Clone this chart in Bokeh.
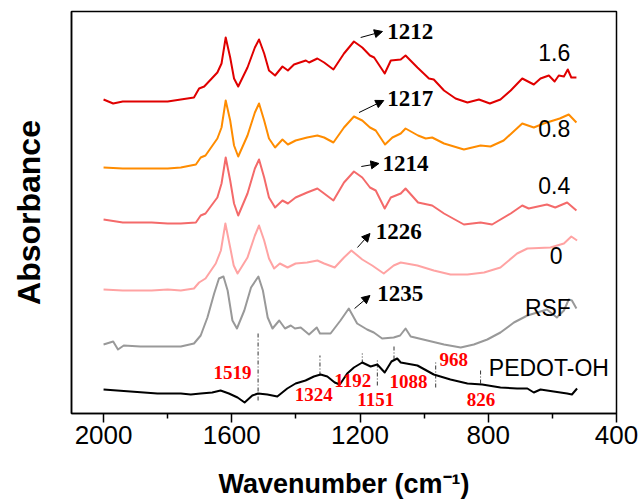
from bokeh.plotting import figure
from bokeh.models import Range1d, FixedTicker, Arrow, NormalHead, ColumnDataSource
from bokeh.core.properties import value
from bokeh.embed import file_html
from bokeh.resources import INLINE

# ---------------- data (wavenumber in cm-1, stacked absorbance in arbitrary units) ----------------
wn_16 = [2000, 1970, 1940, 1880, 1800, 1759, 1718, 1702, 1686, 1645, 1632, 1619, 1605, 1593, 1580,
         1551, 1528, 1515, 1499, 1484, 1465, 1442, 1425, 1406, 1369, 1359, 1333, 1312, 1283, 1250,
         1219, 1193, 1169, 1156, 1123, 1104, 1073, 1058, 1021, 985, 970, 938, 902, 865, 829, 795,
         762, 730, 694, 658, 637, 611, 593, 580, 564, 552, 541, 525]
ab_16 = [314, 310, 312, 312, 312, 314, 316, 325, 327, 341, 350, 376, 356, 335, 327,
         346, 366, 374, 360, 343, 338, 347, 343, 349, 353, 351, 355, 351, 344, 360,
         372, 366, 358, 356, 340, 353, 354, 358, 346, 335, 334, 323, 315, 311, 314, 310,
         314, 323, 335, 329, 335, 338, 332, 338, 337, 344, 336, 336]

wn_08 = [2000, 1940, 1850, 1800, 1759, 1712, 1697, 1682, 1645, 1632, 1619, 1605, 1593, 1580, 1551,
         1528, 1515, 1499, 1484, 1465, 1442, 1425, 1401, 1365, 1333, 1312, 1283, 1250, 1219, 1193,
         1169, 1151, 1122, 1099, 1073, 1058, 1019, 995, 975, 938, 876, 824, 793, 752, 694, 658,
         627, 577, 549, 525]
ab_08 = [246, 245, 245, 245, 246, 249, 256, 258, 275, 286, 313, 293, 268, 257, 278,
         301, 310, 293, 275, 266, 274, 269, 273, 276, 278, 276, 271, 286, 297, 293,
         286, 283, 269, 276, 280, 285, 278, 275, 276, 270, 264, 268, 267, 273, 290, 286,
         290, 295, 299, 291]

wn_04 = [2000, 1940, 1850, 1800, 1759, 1712, 1697, 1682, 1645, 1632, 1619, 1605, 1593, 1580, 1551,
         1528, 1515, 1499, 1484, 1465, 1442, 1425, 1401, 1365, 1333, 1312, 1283, 1250, 1219, 1193,
         1169, 1151, 1123, 1104, 1073, 1058, 1019, 975, 938, 876, 824, 788, 730, 694, 674, 617,
         591, 554, 525]
ab_04 = [194, 191, 191, 190, 190, 191, 198, 200, 216, 230, 256, 233, 210, 198, 220,
         245, 254, 236, 216, 206, 213, 210, 216, 221, 225, 220, 213, 231, 242, 236,
         226, 223, 205, 216, 220, 225, 211, 208, 200, 189, 191, 189, 200, 208, 205, 209,
         206, 211, 203]

wn_00 = [2000, 1940, 1850, 1800, 1759, 1718, 1702, 1682, 1650, 1634, 1620, 1605, 1594, 1582, 1551,
         1528, 1515, 1499, 1484, 1468, 1450, 1426, 1401, 1365, 1333, 1312, 1279, 1250, 1227, 1193,
         1162, 1126, 1095, 1073, 1021, 970, 918, 865, 813, 762, 710, 678, 606, 564, 541, 523]
ab_00 = [124, 123, 123, 124, 123, 125, 131, 135, 150, 163, 190, 166, 148, 140, 156,
         178, 188, 173, 155, 145, 150, 146, 150, 151, 153, 150, 146, 156, 163, 154,
         148, 140, 148, 151, 148, 143, 139, 139, 141, 146, 160, 165, 166, 170, 177, 173]

wn_rsf = [2000, 1970, 1955, 1937, 1885, 1800, 1759, 1718, 1697, 1676, 1655, 1640, 1626, 1613, 1598,
          1584, 1561, 1540, 1517, 1503, 1488, 1473, 1452, 1434, 1416, 1403, 1385, 1359, 1335, 1325,
          1292, 1261, 1235, 1209, 1178, 1157, 1131, 1095, 1075, 1058, 1042, 990, 938, 886, 845,
          803, 762, 720, 678, 647, 617, 586, 564, 549, 539, 525]
ab_rsf = [69, 72, 64, 68, 67, 67, 67, 70, 78, 96, 120, 135, 137, 123, 93,
          85, 103, 126, 137, 123, 96, 85, 93, 85, 88, 85, 86, 79, 86, 80,
          80, 93, 105, 90, 84, 81, 75, 76, 78, 85, 77, 73, 69, 66, 69,
          74, 81, 91, 98, 101, 104, 96, 103, 114, 113, 105]

wn_ped = [2000, 1832, 1759, 1728, 1697, 1661, 1635, 1609, 1582, 1560, 1536, 1518, 1489, 1458, 1427,
          1401, 1370, 1344, 1323, 1302, 1279, 1263, 1240, 1219, 1193, 1167, 1146, 1123, 1102, 1084,
          1073, 1021, 970, 918, 865, 819, 762, 710, 678, 658, 637, 596, 554, 539, 523]
ab_ped = [24, 20, 20, 19, 20, 21, 23, 20, 16, 11, 18, 20, 19, 17, 25,
          30, 33, 37, 39, 37, 31, 29, 40, 46, 51, 47, 49, 41, 52, 55,
          51, 48, 39, 34, 30, 29, 26, 25, 25, 21, 24, 22, 20, 19, 25]

series_names = ["1.6", "0.8", "0.4", "0", "RSF", "PEDOT-OH"]
series_label_x = [594, 594, 594, 588, 614, 611]
series_label_y = [361, 285, 228, 158, 106, 46]

# peak assignments of the samples (black, with arrows)
peak_labels = ["1212", "1217", "1214", "1226", "1235"]
peak_label_x = [1115, 1115, 1130, 1151, 1146]
peak_label_y = [382, 315, 250, 182, 120]
arrow_x0 = [1198, 1203, 1196, 1208, 1217]
arrow_y0 = [376, 301, 247, 166, 105]
arrow_x1 = [1130, 1126, 1141, 1169, 1169]
arrow_y1 = [382, 313, 250, 180, 118]

# PEDOT-OH band positions (red) and their guide lines
band_labels = ["1519", "1324", "1192", "1151", "1088", "968", "826"]
band_label_x = [1598, 1344, 1223, 1151, 1049, 908, 823]
band_label_y = [41, 19, 33, 14, 32, 54, 14]
band_line_x = [1518, 1325, 1193, 1146, 1094, 964, 824]
band_line_top = [81, 58, 60, 55, 67, 53, 45]
band_line_bottom = [13, 38, 50, 28, 54, 26, 30]

# ---------------- figure ----------------
p = figure(width=641, height=503, x_range=Range1d(2100, 400), y_range=Range1d(0, 402),
           output_backend="svg", toolbar_location=None,
           min_border_left=71, min_border_right=25, min_border_top=11, min_border_bottom=90)
p.xgrid.visible = False
p.ygrid.visible = False
p.outline_line_color = "black"
p.outline_line_width = 1.5
p.background_fill_color = "white"
p.border_fill_color = "white"

ax = p.xaxis[0]
ax.ticker = FixedTicker(ticks=[400, 800, 1200, 1600, 2000], minor_ticks=[600, 1000, 1400, 1800])
ax.major_tick_in = 0
ax.major_tick_out = 9
ax.minor_tick_in = 0
ax.minor_tick_out = 5
ax.major_tick_line_width = 1.5
ax.minor_tick_line_width = 1.5
ax.axis_line_width = 1.5
ax.axis_line_color = "black"
ax.major_tick_line_color = "black"
ax.minor_tick_line_color = "black"
ax.major_label_text_font = "Liberation Sans"
ax.major_label_text_font_size = "26px"
ax.major_label_text_color = "black"
ax.major_label_standoff = 3
ax.axis_label = "Wavenumber (cm\u207b\u00b9)"
ax.axis_label_text_font = "Liberation Sans"
ax.axis_label_text_font_size = "27px"
ax.axis_label_text_font_style = "bold"
ax.axis_label_text_color = "black"
ax.axis_label_standoff = 22

ay = p.yaxis[0]
ay.ticker = FixedTicker(ticks=[])
ay.major_tick_out = 0
ay.major_tick_in = 0
ay.minor_tick_out = 0
ay.minor_tick_in = 0
ay.major_label_standoff = 0
ay.axis_line_width = 1.5
ay.axis_line_color = "black"
ay.axis_label = "Absorbance"
ay.axis_label_text_font = "Liberation Sans"
ay.axis_label_text_font_size = "32px"
ay.axis_label_text_font_style = "bold"
ay.axis_label_text_color = "black"
ay.axis_label_standoff = 25

colors = ["#e00000", "#ff8c00", "#f46a6a", "#ffa3a3", "#999999", "#000000"]
data = [(wn_16, ab_16), (wn_08, ab_08), (wn_04, ab_04), (wn_00, ab_00), (wn_rsf, ab_rsf), (wn_ped, ab_ped)]
for (xs, ys), c in zip(data, colors):
    p.line(xs, ys, line_color=c, line_width=2, line_join="round")

# guide lines for PEDOT-OH bands
p.segment(x0=band_line_x, y0=band_line_bottom, x1=band_line_x, y1=band_line_top,
          line_color="black", line_width=0.8, line_dash="4 2 1 2")

# arrows
asrc = ColumnDataSource(dict(x0=arrow_x0, y0=arrow_y0, x1=arrow_x1, y1=arrow_y1))
p.add_layout(Arrow(end=NormalHead(size=8, fill_color="black", line_color="black"),
                   x_start="x0", y_start="y0", x_end="x1", y_end="y1", source=asrc,
                   line_color="black", line_width=1))

# texts
p.text(x=series_label_x, y=series_label_y, text=series_names,
       text_font=value("Liberation Sans"), text_font_size="23px", text_color="black",
       text_align="center", text_baseline="middle")
p.text(x=peak_label_x, y=peak_label_y, text=peak_labels,
       text_font=value("Liberation Serif"), text_font_size="23px", text_font_style="bold",
       text_color="black", text_align="left", text_baseline="middle")
p.text(x=band_label_x, y=band_label_y, text=band_labels,
       text_font=value("Liberation Serif"), text_font_size="19px", text_font_style="bold",
       text_color="#ff0000", text_align="center", text_baseline="middle")

open("out.html", "w").write(file_html(p, INLINE))
